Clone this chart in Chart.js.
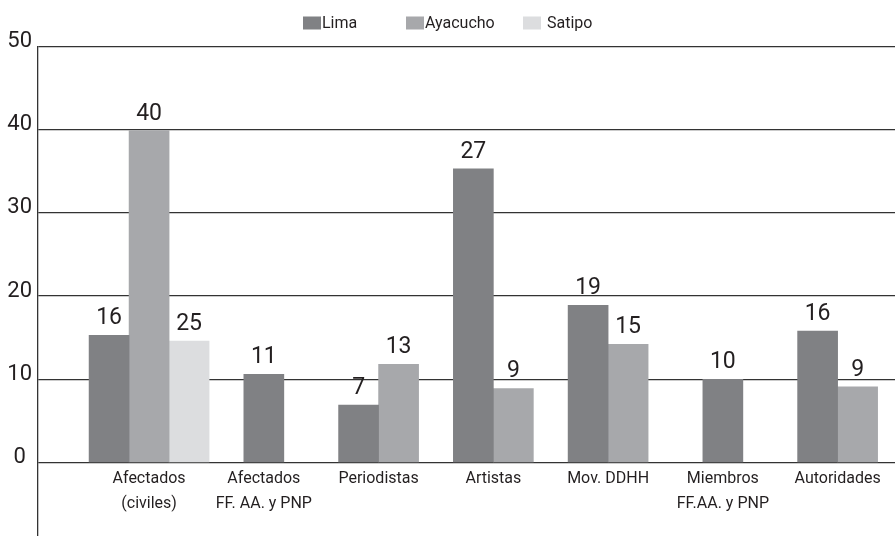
<!DOCTYPE html>
<html>
<head>
<meta charset="utf-8">
<script src="https://cdn.jsdelivr.net/npm/chart.js@4"></script>
<style>
  html, body { margin: 0; padding: 0; background: #ffffff; }
  #wrap { width: 895px; height: 536px; }
</style>
</head>
<body>
<div id="wrap"><canvas id="c" width="895" height="536"></canvas></div>
<script>
const categories = [
  ['Afectados', '(civiles)'],
  ['Afectados', 'FF. AA. y PNP'],
  'Periodistas',
  'Artistas',
  'Mov. DDHH',
  ['Miembros', 'FF.AA. y PNP'],
  'Autoridades'
];
const seriesNames = ['Lima', 'Ayacucho', 'Satipo'];
// bar heights as drawn in the picture
const limaValues     = [15.3, 10.6, 6.9, 35.3, 18.9, 10.0, 15.8];
const ayacuchoValues = [39.9, null, 11.8, 8.9, 14.2, null, 9.1];
const satipoValues   = [14.6, null, null, null, null, null, null];
// numbers printed above the bars
const limaLabels     = ['16', '11', '7', '27', '19', '10', '16'];
const ayacuchoLabels = ['40', null, '13', '9', '15', null, '9'];
const satipoLabels   = ['25', null, null, null, null, null, null];
const yTickValues = [0, 10, 20, 30, 40, 50];

const FONT = "Roboto, 'Liberation Sans', sans-serif";
const TEXT = '#231f20';
const GRID = '#333333';
const colors = ['#808184', '#a7a8ab', '#dcdddf'];
const valueLabels = [limaLabels, ayacuchoLabels, satipoLabels];

const barLabelPlugin = {
  id: 'barLabels',
  afterDatasetsDraw(chart) {
    const ctx = chart.ctx;
    ctx.save();
    ctx.font = '23px ' + FONT;
    ctx.fillStyle = TEXT;
    ctx.textAlign = 'center';
    ctx.textBaseline = 'alphabetic';
    chart.data.datasets.forEach((ds, i) => {
      const meta = chart.getDatasetMeta(i);
      meta.data.forEach((bar, j) => {
        const t = valueLabels[i][j];
        if (t == null || ds.data[j] == null) return;
        ctx.fillText(t, bar.x, bar.y - 11);
      });
    });
    ctx.restore();
  }
};

// legend drawn in the top band (boxes + names from the datasets)
const legendStyle = { boxX: [303, 406, 523], textGap: [1, 1, 6], boxW: 18, boxH: 13, boxY: 16.5, size: 16 };
const topLegendPlugin = {
  id: 'topLegend',
  afterDraw(chart) {
    const ctx = chart.ctx;
    ctx.save();
    ctx.font = legendStyle.size + 'px ' + FONT;
    ctx.textBaseline = 'middle';
    ctx.textAlign = 'left';
    chart.data.datasets.forEach((ds, i) => {
      const x = legendStyle.boxX[i];
      ctx.fillStyle = ds.backgroundColor;
      ctx.fillRect(x, legendStyle.boxY, legendStyle.boxW, legendStyle.boxH);
      ctx.fillStyle = TEXT;
      ctx.fillText(ds.label, x + legendStyle.boxW + legendStyle.textGap[i], legendStyle.boxY + legendStyle.boxH / 2 + 0.5);
    });
    ctx.restore();
  }
};

new Chart(document.getElementById('c'), {
  type: 'bar',
  data: {
    labels: categories,
    datasets: [
      { label: seriesNames[0], data: limaValues, backgroundColor: colors[0] },
      { label: seriesNames[1], data: ayacuchoValues, backgroundColor: colors[1] },
      { label: seriesNames[2], data: satipoValues, backgroundColor: colors[2] }
    ]
  },
  options: {
    responsive: false,
    animation: false,
    layout: { padding: { top: 46.5, left: 0, right: 0, bottom: 0 } },
    datasets: { bar: { barThickness: 40, skipNull: true, borderWidth: 0 } },
    plugins: {
      tooltip: { enabled: false },
      legend: { display: false }
    },
    scales: {
      x: {
        position: { y: 0 },
        offset: true,
        grid: { display: false, drawTicks: false },
        border: { display: false },
        ticks: {
          color: TEXT,
          font: { family: FONT, size: 16, lineHeight: 1.55 },
          padding: 4,
          maxRotation: 0,
          autoSkip: false
        },
        afterBuildTicks(scale) {
          // leave an empty margin at the left of the first category
          const extra = 0.468;
          scale._startValue = scale.min - 0.5 - extra;
          scale._valueRange = (scale.max - scale.min + 1) + extra;
        },
        afterFit(scale) { scale.paddingLeft = 0; scale.paddingRight = 0; }
      },
      y: {
        min: -8.83,
        max: 50,
        grid: { color: GRID, lineWidth: 1.3, drawTicks: false },
        border: { display: true, color: GRID, width: 1.3 },
        ticks: {
          stepSize: 10,
          color: TEXT,
          font: { family: FONT, size: 22 },
          padding: 6,
          crossAlign: 'center',
          labelOffset: -5
        },
        afterBuildTicks(scale) {
          scale.ticks = yTickValues.map(v => ({ value: v }));
        },
        afterFit(scale) {
          scale.width = 38;
          scale.paddingTop = 0;
          scale.paddingBottom = 0;
        }
      }
    }
  },
  plugins: [barLabelPlugin, topLegendPlugin]
});
</script>
</body>
</html>
